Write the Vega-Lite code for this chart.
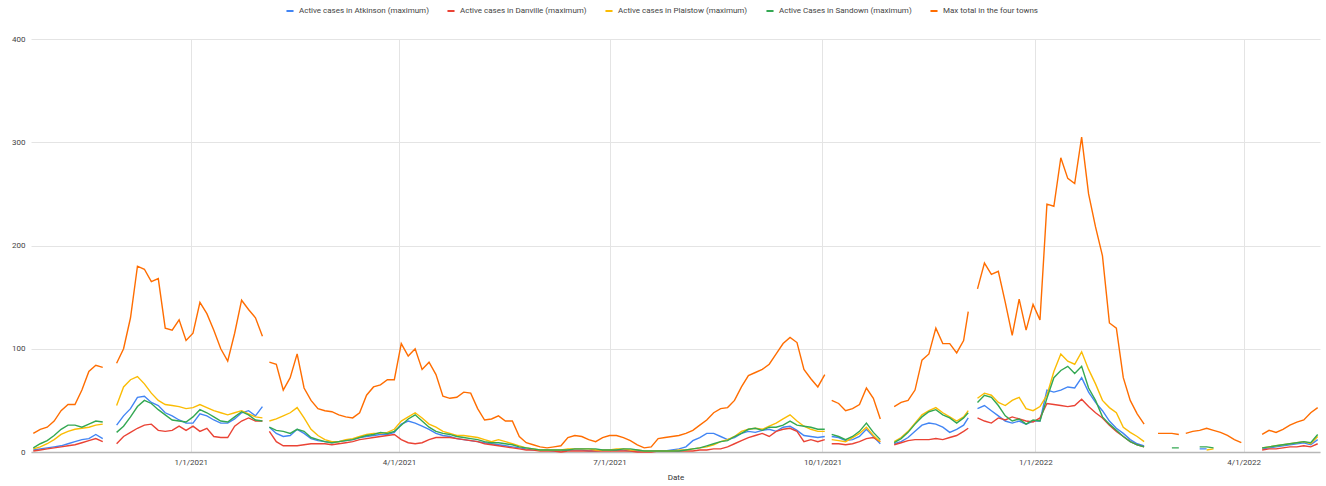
{
  "$schema": "https://vega.github.io/schema/vega-lite/v6.json",
  "autosize": {"type": "none"},
  "width": 1289,
  "height": 413,
  "padding": {"left": 31, "top": 39, "right": 6, "bottom": 34},
  "background": "white",
  "config": {
    "view": {"stroke": null},
    "font": "Roboto",
    "axis": {"labelFont": "Roboto", "titleFont": "Roboto"},
    "legend": {"labelFont": "Roboto"}
  },
  "datasets": {
    "names": [
      {"k": "A", "name": "Active cases in Atkinson (maximum)"},
      {"k": "D", "name": "Active cases in Danville (maximum)"},
      {"k": "P", "name": "Active cases in Plaistow (maximum)"},
      {"k": "S", "name": "Active Cases in Sandown (maximum)"},
      {"k": "T", "name": "Max total in the four towns"}
    ]
  },
  "data": {"values": [
    {"d":"2020-10-25","A":2,"D":1,"P":3,"S":4,"T":18},
    {"d":"2020-10-28","A":3,"D":2,"P":5,"S":8,"T":22},
    {"d":"2020-10-31","A":4,"D":3,"P":8,"S":11,"T":24},
    {"d":"2020-11-03","A":5,"D":4,"P":12,"S":16,"T":30},
    {"d":"2020-11-06","A":6,"D":5,"P":17,"S":22,"T":40},
    {"d":"2020-11-09","A":8,"D":6,"P":20,"S":26,"T":46},
    {"d":"2020-11-12","A":10,"D":7,"P":22,"S":26,"T":46},
    {"d":"2020-11-15","A":12,"D":9,"P":23,"S":24,"T":60},
    {"d":"2020-11-18","A":13,"D":11,"P":24,"S":27,"T":78},
    {"d":"2020-11-21","A":17,"D":13,"P":26,"S":30,"T":84},
    {"d":"2020-11-24","A":13,"D":10,"P":27,"S":29,"T":82},
    {"d":"2020-11-27","A":null,"D":null,"P":null,"S":null,"T":null},
    {"d":"2020-11-30","A":26,"D":8,"P":45,"S":19,"T":86},
    {"d":"2020-12-03","A":35,"D":15,"P":63,"S":25,"T":100},
    {"d":"2020-12-06","A":42,"D":19,"P":70,"S":34,"T":130},
    {"d":"2020-12-09","A":53,"D":23,"P":73,"S":44,"T":180},
    {"d":"2020-12-12","A":54,"D":26,"P":66,"S":50,"T":177},
    {"d":"2020-12-15","A":48,"D":27,"P":57,"S":47,"T":165},
    {"d":"2020-12-18","A":45,"D":21,"P":50,"S":41,"T":168},
    {"d":"2020-12-21","A":38,"D":20,"P":46,"S":36,"T":120},
    {"d":"2020-12-24","A":35,"D":21,"P":45,"S":31,"T":118},
    {"d":"2020-12-27","A":31,"D":25,"P":44,"S":30,"T":128},
    {"d":"2020-12-30","A":28,"D":21,"P":42,"S":29,"T":108},
    {"d":"2021-01-02","A":28,"D":25,"P":43,"S":34,"T":115},
    {"d":"2021-01-05","A":37,"D":20,"P":46,"S":41,"T":145},
    {"d":"2021-01-08","A":35,"D":23,"P":43,"S":38,"T":134},
    {"d":"2021-01-11","A":31,"D":15,"P":40,"S":34,"T":118},
    {"d":"2021-01-14","A":28,"D":14,"P":38,"S":30,"T":100},
    {"d":"2021-01-17","A":28,"D":14,"P":36,"S":29,"T":88},
    {"d":"2021-01-20","A":32,"D":25,"P":38,"S":34,"T":115},
    {"d":"2021-01-23","A":38,"D":30,"P":40,"S":39,"T":147},
    {"d":"2021-01-26","A":40,"D":33,"P":37,"S":36,"T":138},
    {"d":"2021-01-29","A":35,"D":30,"P":34,"S":31,"T":130},
    {"d":"2021-02-01","A":44,"D":30,"P":33,"S":30,"T":112},
    {"d":"2021-02-02","A":null,"D":null,"P":null,"S":null,"T":null},
    {"d":"2021-02-04","A":24,"D":20,"P":30,"S":24,"T":87},
    {"d":"2021-02-07","A":18,"D":10,"P":32,"S":21,"T":85},
    {"d":"2021-02-10","A":15,"D":6,"P":35,"S":20,"T":60},
    {"d":"2021-02-13","A":16,"D":6,"P":38,"S":18,"T":72},
    {"d":"2021-02-16","A":22,"D":6,"P":43,"S":22,"T":95},
    {"d":"2021-02-19","A":18,"D":7,"P":33,"S":20,"T":62},
    {"d":"2021-02-22","A":13,"D":8,"P":22,"S":14,"T":50},
    {"d":"2021-02-25","A":11,"D":8,"P":16,"S":12,"T":42},
    {"d":"2021-02-28","A":10,"D":8,"P":12,"S":10,"T":40},
    {"d":"2021-03-03","A":9,"D":7,"P":10,"S":9,"T":39},
    {"d":"2021-03-06","A":10,"D":8,"P":10,"S":10,"T":36},
    {"d":"2021-03-09","A":11,"D":9,"P":12,"S":11,"T":34},
    {"d":"2021-03-12","A":12,"D":10,"P":13,"S":12,"T":33},
    {"d":"2021-03-15","A":14,"D":12,"P":15,"S":14,"T":38},
    {"d":"2021-03-18","A":15,"D":13,"P":17,"S":16,"T":55},
    {"d":"2021-03-21","A":16,"D":14,"P":18,"S":17,"T":63},
    {"d":"2021-03-24","A":17,"D":15,"P":18,"S":19,"T":65},
    {"d":"2021-03-27","A":17,"D":16,"P":19,"S":18,"T":70},
    {"d":"2021-03-30","A":19,"D":17,"P":22,"S":20,"T":70},
    {"d":"2021-04-02","A":27,"D":12,"P":30,"S":26,"T":105},
    {"d":"2021-04-05","A":30,"D":9,"P":34,"S":32,"T":93},
    {"d":"2021-04-08","A":28,"D":8,"P":38,"S":36,"T":100},
    {"d":"2021-04-11","A":25,"D":9,"P":33,"S":30,"T":80},
    {"d":"2021-04-14","A":22,"D":12,"P":27,"S":24,"T":87},
    {"d":"2021-04-17","A":18,"D":14,"P":24,"S":20,"T":75},
    {"d":"2021-04-20","A":16,"D":14,"P":20,"S":18,"T":54},
    {"d":"2021-04-23","A":15,"D":14,"P":18,"S":17,"T":52},
    {"d":"2021-04-26","A":13,"D":13,"P":16,"S":15,"T":53},
    {"d":"2021-04-29","A":12,"D":12,"P":16,"S":14,"T":58},
    {"d":"2021-05-02","A":11,"D":11,"P":15,"S":13,"T":57},
    {"d":"2021-05-05","A":10,"D":10,"P":14,"S":12,"T":42},
    {"d":"2021-05-08","A":9,"D":8,"P":12,"S":10,"T":31},
    {"d":"2021-05-11","A":8,"D":7,"P":10,"S":9,"T":32},
    {"d":"2021-05-14","A":7,"D":6,"P":12,"S":9,"T":35},
    {"d":"2021-05-17","A":6,"D":5,"P":10,"S":8,"T":30},
    {"d":"2021-05-20","A":5,"D":4,"P":8,"S":7,"T":30},
    {"d":"2021-05-23","A":4,"D":3,"P":6,"S":5,"T":15},
    {"d":"2021-05-26","A":3,"D":2,"P":4,"S":4,"T":9},
    {"d":"2021-05-29","A":2,"D":2,"P":3,"S":3,"T":7},
    {"d":"2021-06-01","A":2,"D":1,"P":2,"S":2,"T":5},
    {"d":"2021-06-04","A":2,"D":1,"P":2,"S":2,"T":4},
    {"d":"2021-06-07","A":1,"D":1,"P":2,"S":2,"T":5},
    {"d":"2021-06-10","A":1,"D":0,"P":2,"S":2,"T":6},
    {"d":"2021-06-13","A":2,"D":1,"P":3,"S":2,"T":14},
    {"d":"2021-06-16","A":2,"D":1,"P":3,"S":3,"T":16},
    {"d":"2021-06-19","A":2,"D":1,"P":3,"S":3,"T":15},
    {"d":"2021-06-22","A":1,"D":1,"P":3,"S":3,"T":12},
    {"d":"2021-06-25","A":1,"D":1,"P":2,"S":3,"T":10},
    {"d":"2021-06-28","A":2,"D":1,"P":2,"S":2,"T":14},
    {"d":"2021-07-01","A":2,"D":1,"P":2,"S":2,"T":16},
    {"d":"2021-07-04","A":2,"D":1,"P":3,"S":2,"T":16},
    {"d":"2021-07-07","A":2,"D":1,"P":3,"S":3,"T":14},
    {"d":"2021-07-10","A":1,"D":1,"P":2,"S":3,"T":11},
    {"d":"2021-07-13","A":1,"D":0,"P":2,"S":2,"T":7},
    {"d":"2021-07-16","A":1,"D":0,"P":1,"S":1,"T":4},
    {"d":"2021-07-19","A":1,"D":0,"P":1,"S":1,"T":5},
    {"d":"2021-07-22","A":1,"D":1,"P":1,"S":1,"T":13},
    {"d":"2021-07-25","A":1,"D":1,"P":1,"S":1,"T":14},
    {"d":"2021-07-28","A":2,"D":1,"P":1,"S":1,"T":15},
    {"d":"2021-07-31","A":3,"D":1,"P":2,"S":1,"T":16},
    {"d":"2021-08-03","A":5,"D":1,"P":2,"S":2,"T":18},
    {"d":"2021-08-06","A":11,"D":1,"P":3,"S":3,"T":21},
    {"d":"2021-08-09","A":14,"D":2,"P":4,"S":4,"T":26},
    {"d":"2021-08-12","A":18,"D":2,"P":5,"S":6,"T":31},
    {"d":"2021-08-15","A":18,"D":3,"P":7,"S":8,"T":38},
    {"d":"2021-08-18","A":15,"D":3,"P":10,"S":10,"T":42},
    {"d":"2021-08-21","A":12,"D":5,"P":12,"S":11,"T":43},
    {"d":"2021-08-24","A":14,"D":8,"P":15,"S":15,"T":50},
    {"d":"2021-08-27","A":18,"D":11,"P":20,"S":18,"T":63},
    {"d":"2021-08-30","A":20,"D":14,"P":22,"S":22,"T":74},
    {"d":"2021-09-02","A":19,"D":16,"P":23,"S":23,"T":77},
    {"d":"2021-09-05","A":21,"D":18,"P":22,"S":21,"T":80},
    {"d":"2021-09-08","A":22,"D":15,"P":25,"S":24,"T":85},
    {"d":"2021-09-11","A":20,"D":20,"P":28,"S":24,"T":95},
    {"d":"2021-09-14","A":24,"D":22,"P":32,"S":26,"T":105},
    {"d":"2021-09-17","A":25,"D":23,"P":36,"S":30,"T":111},
    {"d":"2021-09-20","A":21,"D":20,"P":30,"S":26,"T":106},
    {"d":"2021-09-23","A":16,"D":10,"P":25,"S":25,"T":80},
    {"d":"2021-09-26","A":15,"D":12,"P":22,"S":24,"T":71},
    {"d":"2021-09-29","A":14,"D":10,"P":20,"S":22,"T":63},
    {"d":"2021-10-02","A":15,"D":12,"P":20,"S":22,"T":75},
    {"d":"2021-10-03","A":null,"D":null,"P":null,"S":null,"T":null},
    {"d":"2021-10-05","A":15,"D":8,"P":12,"S":17,"T":50},
    {"d":"2021-10-08","A":14,"D":8,"P":11,"S":15,"T":47},
    {"d":"2021-10-11","A":11,"D":7,"P":10,"S":12,"T":40},
    {"d":"2021-10-14","A":12,"D":8,"P":14,"S":15,"T":42},
    {"d":"2021-10-17","A":15,"D":10,"P":18,"S":20,"T":46},
    {"d":"2021-10-20","A":22,"D":13,"P":24,"S":28,"T":62},
    {"d":"2021-10-23","A":15,"D":14,"P":16,"S":19,"T":52},
    {"d":"2021-10-26","A":8,"D":10,"P":10,"S":12,"T":32},
    {"d":"2021-10-29","A":null,"D":null,"P":null,"S":null,"T":null},
    {"d":"2021-11-01","A":8,"D":7,"P":10,"S":9,"T":44},
    {"d":"2021-11-04","A":10,"D":9,"P":14,"S":13,"T":48},
    {"d":"2021-11-07","A":14,"D":11,"P":20,"S":19,"T":50},
    {"d":"2021-11-10","A":20,"D":12,"P":28,"S":27,"T":60},
    {"d":"2021-11-13","A":26,"D":12,"P":36,"S":34,"T":89},
    {"d":"2021-11-16","A":28,"D":12,"P":40,"S":39,"T":95},
    {"d":"2021-11-19","A":27,"D":13,"P":43,"S":41,"T":120},
    {"d":"2021-11-22","A":24,"D":12,"P":38,"S":36,"T":105},
    {"d":"2021-11-25","A":19,"D":14,"P":34,"S":33,"T":105},
    {"d":"2021-11-28","A":22,"D":16,"P":30,"S":28,"T":96},
    {"d":"2021-12-01","A":26,"D":20,"P":34,"S":33,"T":108},
    {"d":"2021-12-03","A":33,"D":23,"P":40,"S":38,"T":136},
    {"d":"2021-12-05","A":null,"D":null,"P":null,"S":null,"T":null},
    {"d":"2021-12-07","A":42,"D":33,"P":52,"S":48,"T":158},
    {"d":"2021-12-10","A":45,"D":30,"P":57,"S":55,"T":183},
    {"d":"2021-12-13","A":40,"D":28,"P":55,"S":53,"T":172},
    {"d":"2021-12-16","A":35,"D":33,"P":48,"S":45,"T":175},
    {"d":"2021-12-19","A":30,"D":31,"P":45,"S":35,"T":145},
    {"d":"2021-12-22","A":28,"D":34,"P":50,"S":30,"T":113},
    {"d":"2021-12-25","A":30,"D":32,"P":53,"S":32,"T":148},
    {"d":"2021-12-28","A":27,"D":30,"P":42,"S":27,"T":118},
    {"d":"2021-12-31","A":30,"D":29,"P":40,"S":31,"T":143},
    {"d":"2022-01-03","A":30,"D":33,"P":44,"S":30,"T":128},
    {"d":"2022-01-06","A":60,"D":47,"P":55,"S":52,"T":240},
    {"d":"2022-01-09","A":58,"D":46,"P":78,"S":72,"T":238},
    {"d":"2022-01-12","A":60,"D":45,"P":95,"S":79,"T":285},
    {"d":"2022-01-15","A":63,"D":44,"P":88,"S":83,"T":265},
    {"d":"2022-01-18","A":62,"D":45,"P":85,"S":76,"T":260},
    {"d":"2022-01-21","A":72,"D":51,"P":97,"S":83,"T":305},
    {"d":"2022-01-24","A":58,"D":44,"P":80,"S":62,"T":250},
    {"d":"2022-01-27","A":48,"D":38,"P":66,"S":50,"T":218},
    {"d":"2022-01-30","A":40,"D":33,"P":50,"S":34,"T":190},
    {"d":"2022-02-02","A":30,"D":26,"P":43,"S":27,"T":125},
    {"d":"2022-02-05","A":23,"D":20,"P":38,"S":21,"T":120},
    {"d":"2022-02-08","A":18,"D":15,"P":24,"S":15,"T":72},
    {"d":"2022-02-11","A":12,"D":10,"P":19,"S":10,"T":50},
    {"d":"2022-02-14","A":8,"D":7,"P":15,"S":7,"T":37},
    {"d":"2022-02-17","A":6,"D":5,"P":10,"S":5,"T":27},
    {"d":"2022-02-20","A":null,"D":null,"P":null,"S":null,"T":null},
    {"d":"2022-02-23","A":null,"D":null,"P":null,"S":null,"T":18},
    {"d":"2022-02-26","A":null,"D":null,"P":null,"S":null,"T":18},
    {"d":"2022-03-01","A":null,"D":null,"P":null,"S":4,"T":18},
    {"d":"2022-03-04","A":null,"D":null,"P":null,"S":4,"T":17},
    {"d":"2022-03-05","A":null,"D":null,"P":null,"S":null,"T":null},
    {"d":"2022-03-07","A":null,"D":null,"P":null,"S":null,"T":18},
    {"d":"2022-03-10","A":null,"D":null,"P":null,"S":null,"T":20},
    {"d":"2022-03-13","A":3,"D":null,"P":null,"S":5,"T":21},
    {"d":"2022-03-16","A":3,"D":null,"P":2,"S":5,"T":23},
    {"d":"2022-03-19","A":null,"D":null,"P":3,"S":4,"T":21},
    {"d":"2022-03-22","A":null,"D":null,"P":null,"S":null,"T":19},
    {"d":"2022-03-25","A":null,"D":null,"P":null,"S":null,"T":16},
    {"d":"2022-03-28","A":null,"D":null,"P":null,"S":null,"T":12},
    {"d":"2022-03-31","A":null,"D":null,"P":null,"S":null,"T":9},
    {"d":"2022-04-03","A":null,"D":null,"P":null,"S":null,"T":null},
    {"d":"2022-04-06","A":null,"D":null,"P":null,"S":null,"T":null},
    {"d":"2022-04-09","A":3,"D":2,"P":4,"S":4,"T":17},
    {"d":"2022-04-12","A":4,"D":3,"P":5,"S":5,"T":21},
    {"d":"2022-04-15","A":5,"D":3,"P":6,"S":6,"T":19},
    {"d":"2022-04-18","A":6,"D":4,"P":7,"S":7,"T":22},
    {"d":"2022-04-21","A":7,"D":5,"P":8,"S":8,"T":26},
    {"d":"2022-04-24","A":8,"D":5,"P":9,"S":9,"T":29},
    {"d":"2022-04-27","A":9,"D":6,"P":10,"S":10,"T":31},
    {"d":"2022-04-30","A":7,"D":5,"P":8,"S":9,"T":38},
    {"d":"2022-05-03","A":12,"D":8,"P":15,"S":17,"T":43}
  ]},
  "transform": [
    {"fold": ["A", "D", "P", "S", "T"], "as": ["k", "v"]},
    {"lookup": "k", "from": {"data": {"name": "names"}, "key": "k", "fields": ["name"]}}
  ],
  "mark": {"type": "line", "strokeWidth": 1.4, "invalid": "break-paths-filter-domains"},
  "encoding": {
    "x": {
      "field": "d",
      "type": "temporal",
      "scale": {"domain": [{"year": 2020, "month": 10, "date": 24}, {"year": 2022, "month": 5, "date": 4}]},
      "axis": {
        "title": "Date",
        "format": "%-m/%-d/%Y",
        "tickCount": {"interval": "month", "step": 3},
        "labelFontSize": 8,
        "labelColor": "#444444",
        "labelPadding": 6,
        "labelFlush": false,
        "ticks": false,
        "grid": true,
        "gridColor": "#e4e4e4",
        "domainColor": "#b7b7b7",
        "domainWidth": 1.5,
        "titleFontSize": 8,
        "titleFontWeight": "normal",
        "titleColor": "#333333",
        "titlePadding": 7
      }
    },
    "y": {
      "field": "v",
      "type": "quantitative",
      "scale": {"domain": [0, 400]},
      "axis": {
        "title": null,
        "values": [0, 100, 200, 300, 400],
        "labelFontSize": 8,
        "labelColor": "#444444",
        "labelPadding": 6,
        "ticks": false,
        "domain": false,
        "gridColor": "#e4e4e4"
      }
    },
    "color": {
      "field": "name",
      "type": "nominal",
      "scale": {
        "domain": [
          "Active cases in Atkinson (maximum)",
          "Active cases in Danville (maximum)",
          "Active cases in Plaistow (maximum)",
          "Active Cases in Sandown (maximum)",
          "Max total in the four towns"
        ],
        "range": ["#4285F4", "#EA4335", "#FBBC04", "#34A853", "#FF6D01"]
      },
      "legend": {
        "title": null,
        "orient": "none",
        "direction": "horizontal",
        "legendX": 254,
        "legendY": -33,
        "labelFontSize": 8,
        "labelColor": "#444444",
        "symbolType": "stroke",
        "symbolSize": 50,
        "symbolStrokeWidth": 2,
        "labelOffset": 4,
        "columnPadding": 14
      }
    }
  }
}
